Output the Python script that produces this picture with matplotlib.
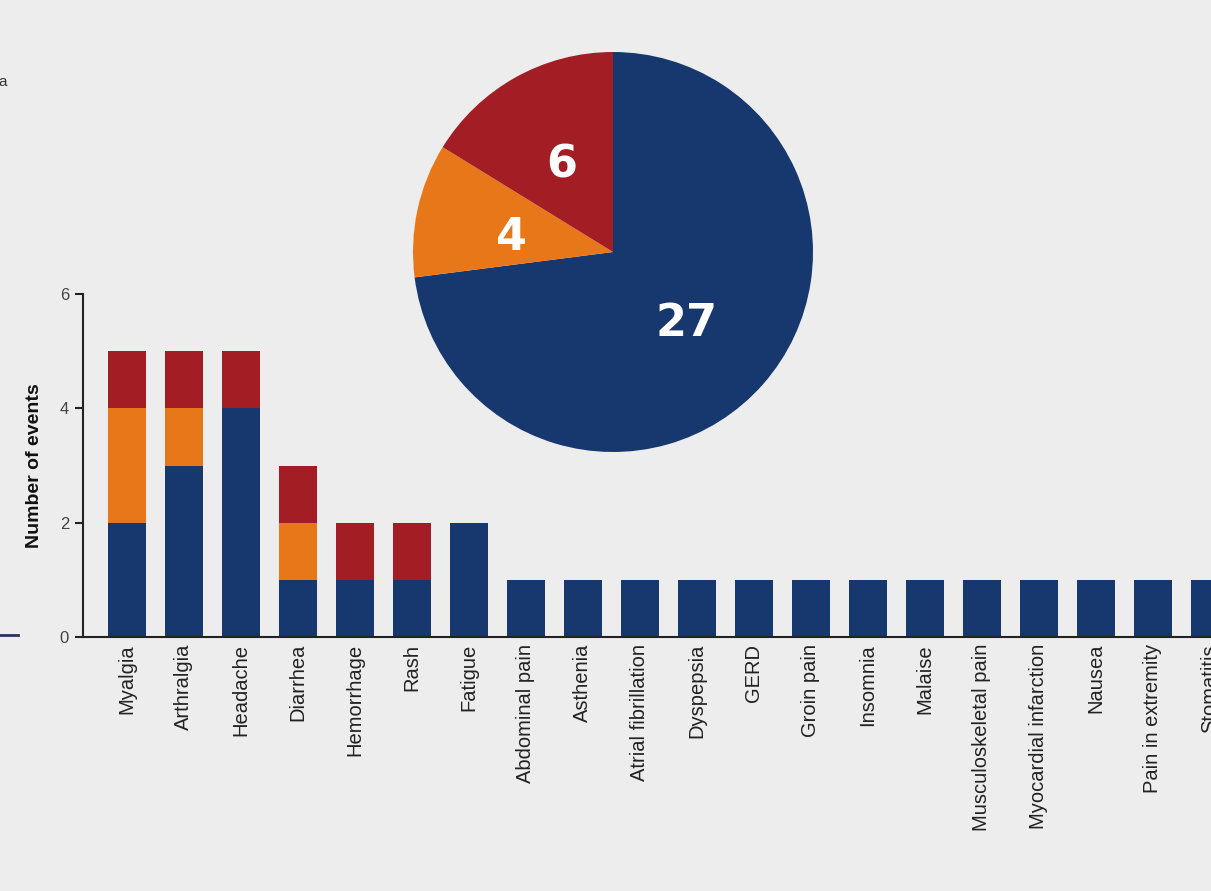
import matplotlib
matplotlib.use("Agg")
import matplotlib.pyplot as plt
import numpy as np

categories = ["Myalgia", "Arthralgia", "Headache", "Diarrhea", "Hemorrhage", "Rash",
              "Fatigue", "Abdominal pain", "Asthenia", "Atrial fibrillation", "Dyspepsia",
              "GERD", "Groin pain", "Insomnia", "Malaise", "Musculoskeletal pain",
              "Myocardial infarction", "Nausea", "Pain in extremity", "Stomatitis"]
blue_vals = [2, 3, 4, 1, 1, 1, 2, 1, 1, 1, 1, 1, 1, 1, 1, 1, 1, 1, 1, 1]
orange_vals = [2, 1, 0, 1, 0, 0, 0, 0, 0, 0, 0, 0, 0, 0, 0, 0, 0, 0, 0, 0]
red_vals = [1, 1, 1, 1, 1, 1, 0, 0, 0, 0, 0, 0, 0, 0, 0, 0, 0, 0, 0, 0]
pie_vals = [27, 4, 6]
y_ticks = [0, 2, 4, 6]

BLUE = "#17376F"
ORANGE = "#E8771A"
RED = "#A21D24"
BG = "#EDEDED"

plt.rcParams['font.family'] = ['Liberation Sans', 'DejaVu Sans']

W, H = 1211, 891
fig = plt.figure(figsize=(W / 100, H / 100), dpi=100, facecolor=BG)

# bar axes
ax = fig.add_axes([83 / W, (H - 637) / H, (W - 83) / W, (637 - 294) / H])
ax.set_facecolor(BG)
x = np.arange(len(categories))
bw = 0.67
blue = np.array(blue_vals)
orange = np.array(orange_vals)
red = np.array(red_vals)
ax.bar(x, blue, width=bw, color=BLUE, zorder=2)
ax.bar(x, orange, width=bw, bottom=blue, color=ORANGE, zorder=2)
ax.bar(x, red, width=bw, bottom=blue + orange, color=RED, zorder=2)
ax.set_xlim(-0.77, 19.02)
ax.set_ylim(0, 6)
ax.set_yticks(y_ticks)
ax.set_yticklabels([str(v) for v in y_ticks], fontsize=12, color="#444444")
ax.set_xticks(x)
ax.set_xticklabels(categories, rotation=90, fontsize=14.5, color="#222222")
ax.tick_params(axis='x', length=0, pad=5)
ax.tick_params(axis='y', length=6, width=1.5, color="#222222", pad=4)
for s in ['top', 'right']:
    ax.spines[s].set_visible(False)
ax.spines['left'].set_color("#222222")
ax.spines['left'].set_linewidth(1.5)
ax.spines['bottom'].set_color("#222222")
ax.spines['bottom'].set_linewidth(1.5)
ax.set_ylabel("Number of events", fontsize=14, fontweight='bold', color="#111111", labelpad=12)

# pie axes
cx, cy, r = 613, 252, 200
pax = fig.add_axes([(cx - r) / W, (H - cy - r) / H, 2 * r / W, 2 * r / H])
pax.pie(pie_vals, colors=[BLUE, ORANGE, RED], startangle=90, counterclock=False,
        radius=1.0, wedgeprops=dict(linewidth=0))
pax.set_xlim(-1, 1)
pax.set_ylim(-1, 1)
pax.set_aspect('equal')
pax.axis('off')

# wedge labels placed as in the reference
lab_pos = [(686, 323), (512, 238), (562, 165)]
for v, (px, py) in zip(pie_vals, lab_pos):
    fig.text(px / W, 1 - py / H, str(v), ha='center', va='center', fontsize=32,
             fontweight='bold', color='white', family=['DejaVu Sans'])

# stray slide elements
fig.text(-2 / W, 1 - 82 / H, "a", fontsize=11, color="#333333", va='center', ha='left')
fig.add_artist(plt.Line2D([0, 18 / W], [1 - 635 / H, 1 - 635 / H], color="#2a3550", lw=2))

fig.savefig("out.png", dpi=100, facecolor=BG)
